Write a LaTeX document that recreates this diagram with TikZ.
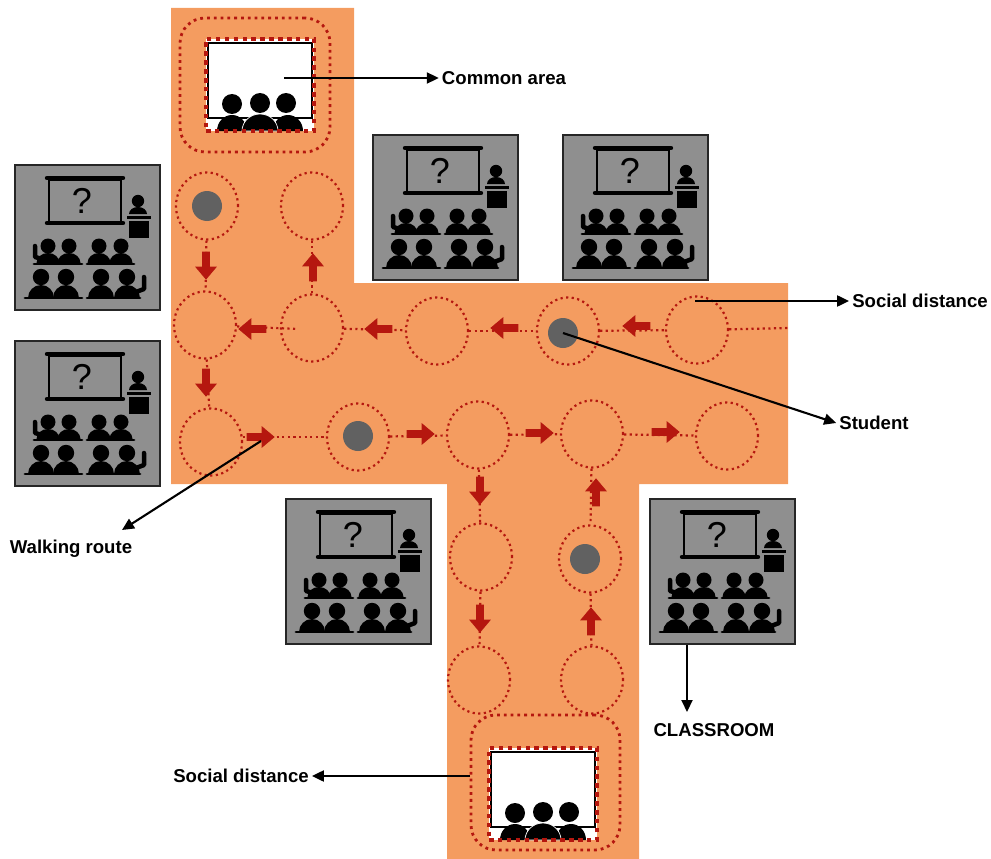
\documentclass[tikz,border=0pt]{standalone}
\usepackage{fontspec}
\setmainfont{Liberation Sans}
\usetikzlibrary{arrows.meta,shapes.geometric,shapes.arrows}
\definecolor{floorc}{HTML}{F49C60}
\definecolor{routec}{HTML}{B5170F}
\definecolor{boxc}{HTML}{8F8F8F}
\definecolor{studc}{HTML}{616161}
\begin{document}
\begin{tikzpicture}[
  x=1pt, y=-1pt,
  spot/.style={draw=routec, ellipse, line width=2.2pt, dash pattern=on 2.2pt off 3.4pt, minimum width=62pt, minimum height=67pt, inner sep=0pt},
  student/.style={circle, fill=studc, minimum size=30pt, inner sep=0pt},
  route/.style={draw=routec, line width=2.2pt, dash pattern=on 2.2pt off 3.4pt},
  walk/.style={single arrow, fill=routec, anchor=tip, inner sep=3.7pt, minimum height=28pt, single arrow head extend=7pt, single arrow tip angle=80},
  lab/.style={font=\fontsize{18.6}{20}\selectfont\bfseries, inner sep=3pt},
  callout/.style={draw=black, line width=2.1pt, -{Triangle[length=12pt,width=11pt]}},
  zone/.style={draw=routec, rounded corners=25pt, line width=2.8pt, dash pattern=on 2.8pt off 4pt, inner sep=0pt},
  classroom/.pic={
    \node[draw=black!85, line width=2pt, fill=boxc, minimum size=145pt, inner sep=0pt] (box) at (73,73) {};
    \draw[line width=2.8pt] (35,16) rectangle (107,58);
    \draw[line width=4.4pt, line cap=round] (33,14) -- (109,14) (33,59) -- (109,59);
    \node[font=\fontsize{36}{36}\selectfont] (qm) at (68,37) {?};
    \fill (124,37) circle (6.2);
    \fill (115,50) arc[start angle=180, end angle=360, x radius=9, y radius=7] -- cycle;
    \fill (113,52) rectangle (137,55);
    \fill (115,57) rectangle (135,74);
    \foreach \hx in {34,55,85,107} {
      \fill (\hx,82) circle (7.5);
      \fill (\hx-11.5,99) arc[start angle=180, end angle=360, x radius=11.5, y radius=10] -- cycle;
    }
    \foreach \hx in {27,52,87,113} {
      \fill (\hx,113) circle (8.2);
      \fill (\hx-13,134) arc[start angle=180, end angle=360, x radius=13, y radius=13] -- cycle;
    }
    \draw[line width=2.8pt, line cap=round] (20,100) -- (68,100) (73,100) -- (120,100);
    \draw[line width=2.8pt, line cap=round] (11,134) -- (68,134) (73,134) -- (126,134);
    \draw[line width=4.5pt, line cap=round, line join=round] (21,82) -- (21,93) -- (28,95);
    \draw[line width=4.5pt, line cap=round, line join=round] (130,113) -- (130,125) -- (122,128);
  },
  commonroom/.pic={
    \fill[white] (0,0) rectangle (108,92);
    \draw[line width=2.8pt, black] (2,4) rectangle (106,79);
    \foreach \hx/\hy in {26/65,54/64,80/64} {
      \fill (\hx,\hy) circle (10);
    }
    \fill (11,92) arc[start angle=180, end angle=360, x radius=15, y radius=16] -- cycle;
    \fill (67,92) arc[start angle=180, end angle=360, x radius=15, y radius=16] -- cycle;
    \filldraw[draw=white, line width=.7pt] (36,92) arc[start angle=180, end angle=360, x radius=18, y radius=17] -- cycle;
    \node[draw=routec, line width=4.5pt, dash pattern=on 4.5pt off 4.4pt, minimum width=108pt, minimum height=92pt, inner sep=0pt] (frame) at (54,46) {};
  }
]
\useasboundingbox (0,0) rectangle (991,859);
\fill[floorc] (171,8) -- (354,8) -- (354,283) -- (788,283) -- (788,484) -- (639,484) -- (639,859) -- (447,859) -- (447,484) -- (171,484) -- cycle;
\foreach \n/\x/\y in {1/14/164,2/14/340,3/372/134,4/562/134,5/285/498,6/649/498} {
  \pic (c\n) at (\x,\y) {classroom};
}
\pic (rooma) at (206,39) {commonroom};
\pic (roomb) at (489,748) {commonroom};
\node[zone, minimum width=150pt, minimum height=134pt] (zonea) at (255,85) {};
\node[zone, minimum width=149pt, minimum height=135pt] (zoneb) at (545.5,782.5) {};
\foreach \name/\x/\y in {a/207/206,b/312/206,c/205/325,d/312/328,e/437/331,f/568/331,g/697/330,h/211/442,i/358/437,j/478/435,k/592/434,l/727/436,m/481/557,n/590/559,o/479/680,p/592/680} {
  \node[spot] (\name) at (\x,\y) {};
}
\foreach \name/\x/\y in {stud1/207/206,stud2/563/333,stud3/358/436,stud4/585/559} {
  \node[student] (\name) at (\x,\y) {};
}
\coordinate (dIn) at (298,329);
\coordinate (floorEnd) at (790,328);
\coordinate (hEdge) at (243,437);
\foreach \from/\to in {a/c,b/d,c/h,c/dIn,d/e,e/f,f/g,g/floorEnd,hEdge/i,i/j,j/k,k/l,j/m,m/o,n/p,k/n} {
  \draw[route] (\from) -- (\to);
}
\foreach \x/\y/\r [count=\n] in {206/280/-90,206/397/-90,275/437/0,435/434/0,554/433/0,680/432/0,480/505/-90,480/633/-90,591/607/90,596/478/90,238/329/180,313/253/90,364/329/180,490/328/180,622/326/180} {
  \node[walk, rotate=\r] (w\n) at (\x,\y) {};
}
\node[lab] (commonlab) at (504,78) {Common area};
\node[lab] (distlab) at (920,301) {Social distance};
\node[lab] (studlab) at (874,423) {Student};
\node[lab] (routelab) at (71,549) {Walking route};
\node[lab] (classlab) at (714,730) {CLASSROOM};
\node[lab] (zonelab) at (241,776) {Social distance};
\coordinate (commonstart) at (284,78);
\coordinate (diststart) at (695,301);
\coordinate (routestart) at (261,441);
\coordinate (routeend) at (122,530);
\coordinate (classend) at (687,712);
\draw[callout] (commonstart) -- (commonlab);
\draw[callout] (diststart) -- (distlab);
\draw[callout] (stud2.center) -- (studlab.west);
\draw[callout] (routestart) -- (routeend);
\draw[callout] (c6box.south -| classend) -- (classend);
\draw[callout] (zoneb.west |- zonelab) -- (zonelab);
\end{tikzpicture}
\end{document}
